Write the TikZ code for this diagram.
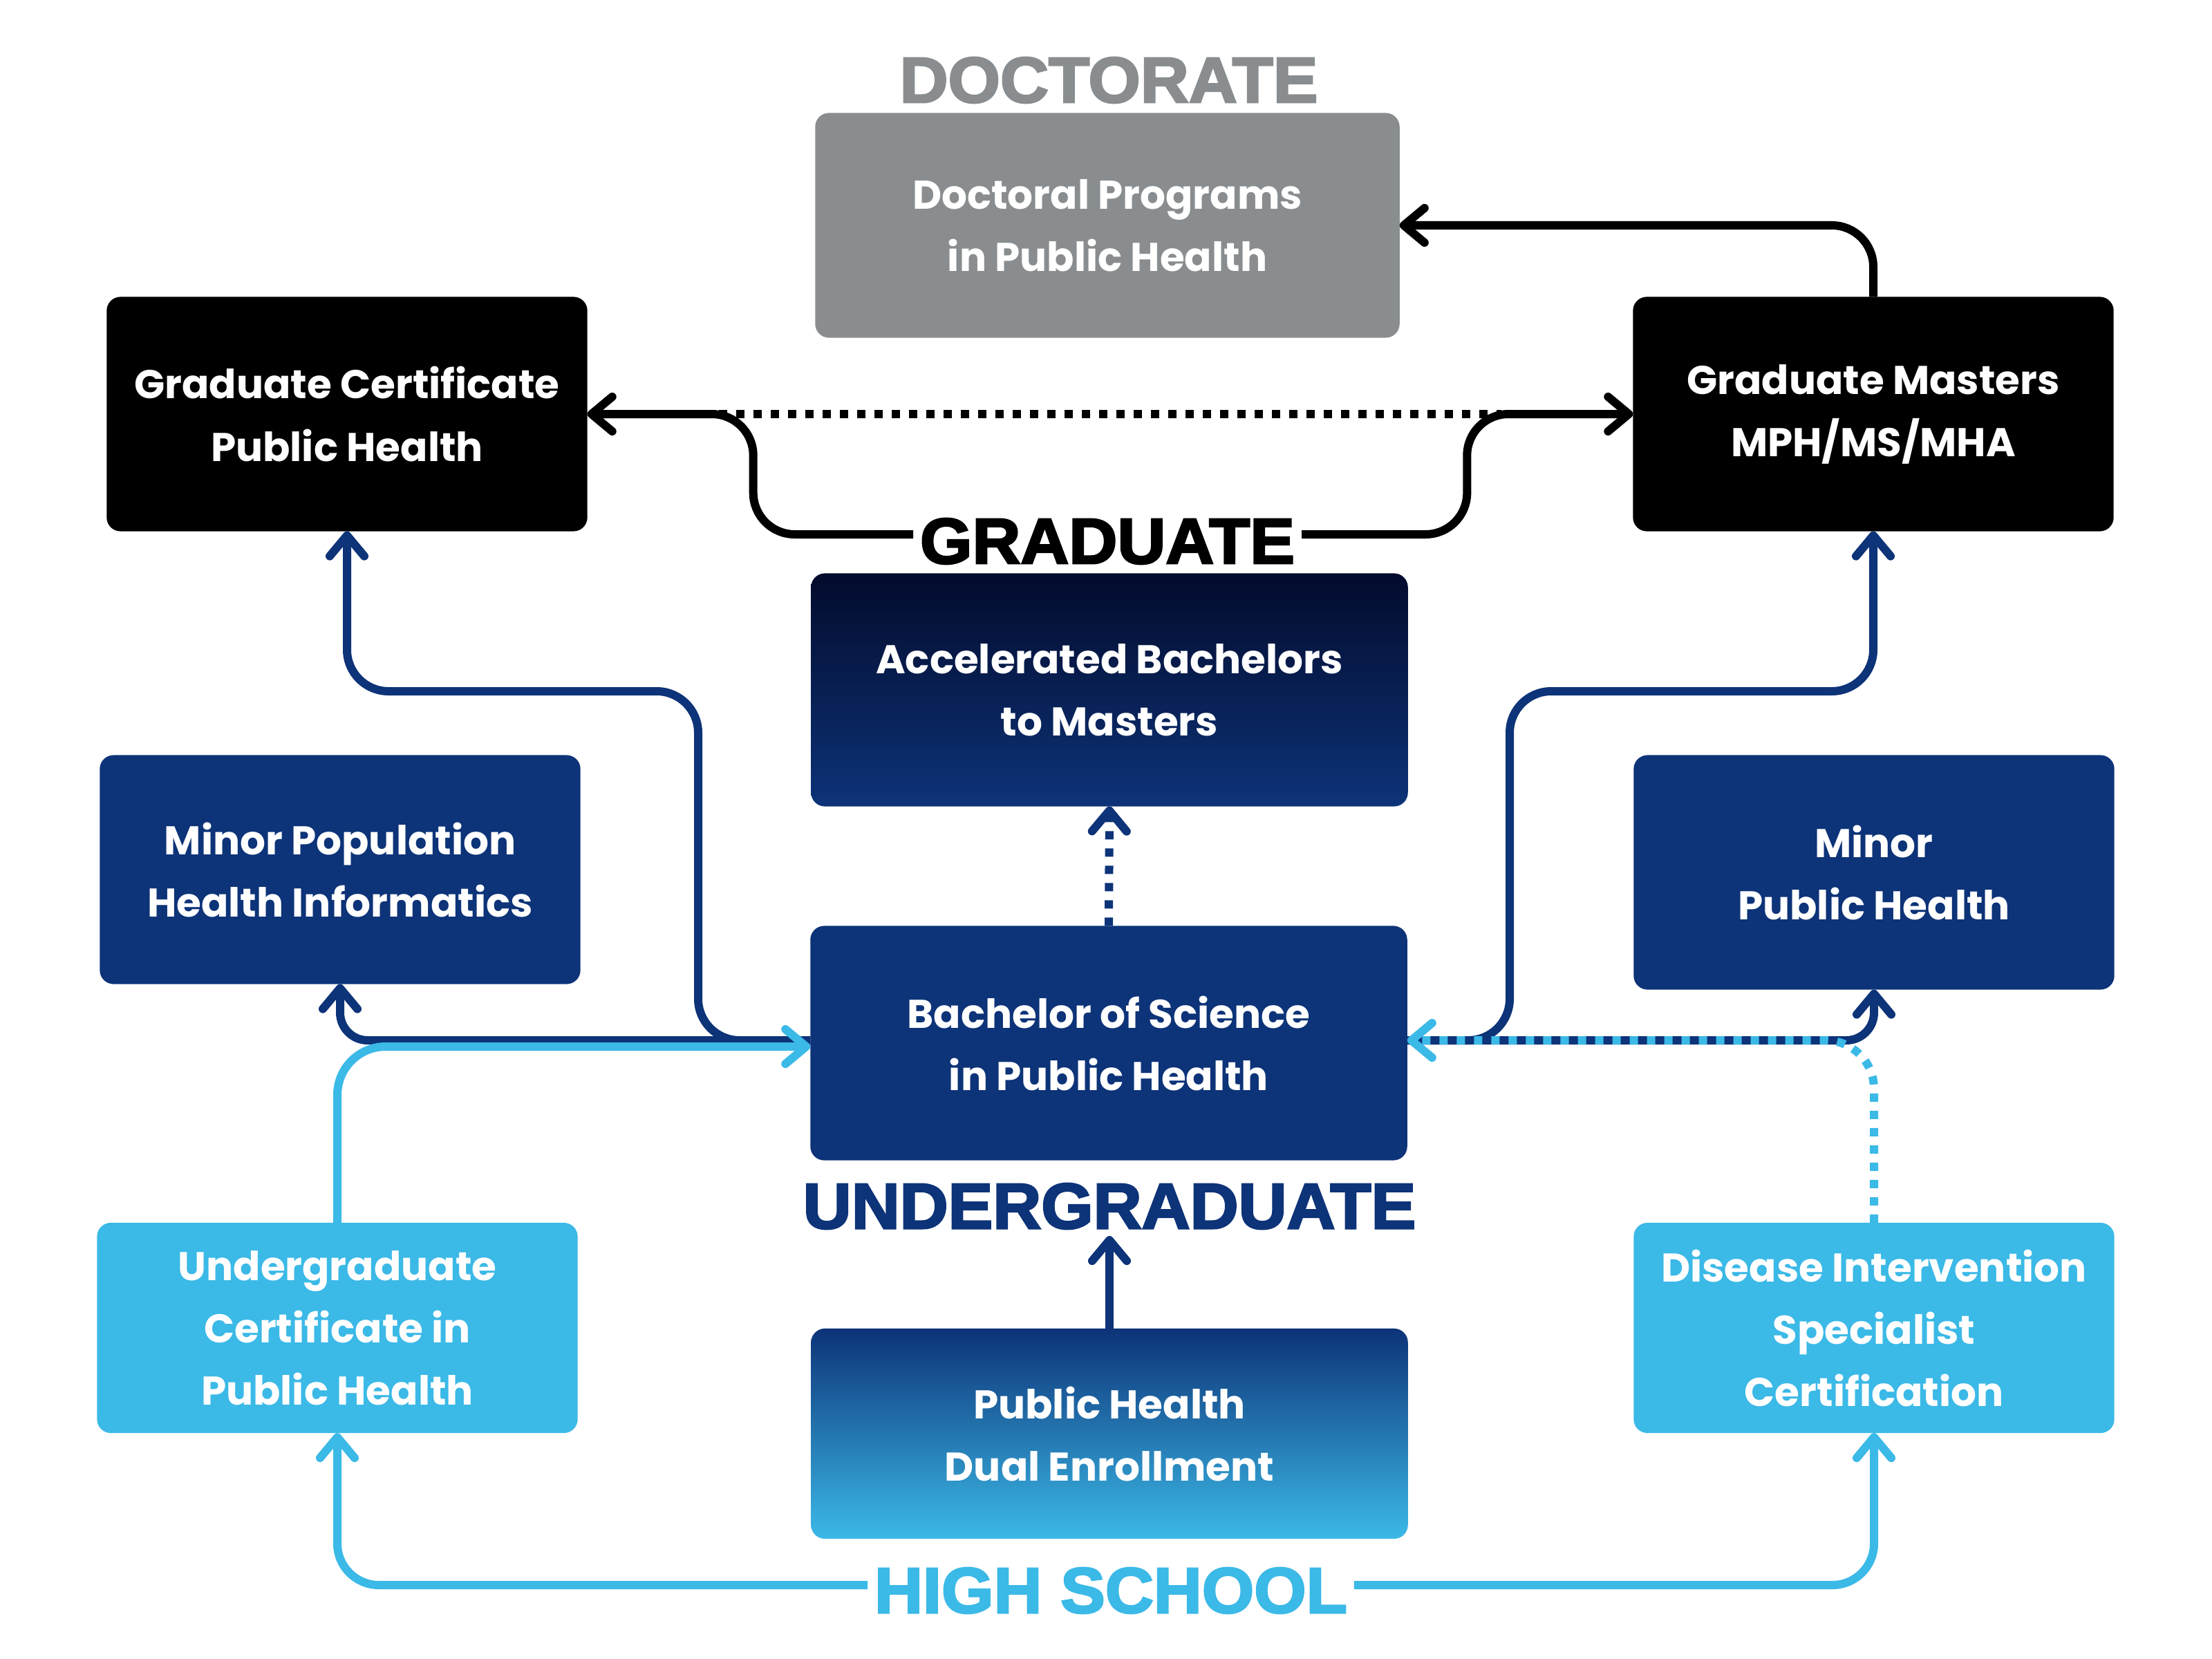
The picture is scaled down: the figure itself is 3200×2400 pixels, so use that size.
\documentclass[tikz,border=0pt]{standalone}
\usepackage{fontspec}
\setmainfont{Poppins}
\newfontfamily\headfont[FakeBold=3,FakeStretch=1.04]{Liberation Sans}
\usetikzlibrary{positioning,calc,arrows.meta}

\definecolor{docgray}{HTML}{898D8F}
\definecolor{navy}{HTML}{0D3378}
\definecolor{skyblue}{HTML}{3BB9E7}
\definecolor{nightblue}{HTML}{030B2C}
\definecolor{midblue}{HTML}{1A6FB5}

\begin{document}
\begin{tikzpicture}[
    x=0.01cm, y=-0.01cm,
    chev/.tip={Straight Barb[length=0.3cm, width=0.5cm, round]},
    box/.style={rectangle, rounded corners=0.2cm, text=white, align=center,
                font=\fontsize{16.5}{25.6}\selectfont\bfseries, inner sep=0pt, outer sep=0pt},
    side/.style={box, minimum width=6.95cm},
    mid/.style={box, minimum width=8.63cm},
    level/.style={font=\headfont\bfseries\fontsize{26.5}{30}\selectfont, inner sep=0.1cm, outer sep=0pt},
    link/.style={line width=0.12cm, rounded corners=0.6cm, -chev},
    dots/.style={dash pattern=on 0.12cm off 0.13cm}
]
\useasboundingbox (0,0) rectangle (3200,2400);

% Level labels
\node[level, text=docgray] (doct) at (1604,116) {DOCTORATE};
\node[level, text=black, fill=white] (grad) at (1602,783) {GRADUATE};
\node[level, text=navy] (ugrad) at (1605,1745) {UNDERGRADUATE};
\node[level, text=skyblue] (hs) at (1607,2301) {HIGH SCHOOL};

% Programs
\node[box, fill=docgray, minimum width=8.45cm, minimum height=3.25cm] (doc) at (1602,326) {Doctoral Programs\\in Public Health};
\node[side, fill=black, minimum height=3.39cm] (gc) at (502,599) {Graduate Certificate\\Public Health};
\node[side, fill=black, minimum height=3.39cm] (gm) at (2710,599) {Graduate Masters\\MPH/MS/MHA};
\node[mid, top color=nightblue, bottom color=navy, minimum height=3.37cm] (acc) at (1605,998) {Accelerated Bachelors\\to Masters};
\node[side, fill=navy, minimum height=3.31cm] (mphi) at (492,1258) {Minor Population\\Health Informatics};
\node[mid, fill=navy, minimum height=3.39cm] (bs) at (1604,1509) {Bachelor of Science\\in Public Health};
\node[side, fill=navy, minimum height=3.39cm] (mph) at (2711,1262) {Minor\\Public Health};
\node[side, fill=skyblue, minimum height=3.04cm] (uc) at (488,1921) {Undergraduate\\Certificate in\\Public Health};
\node[mid, top color=navy, middle color=midblue, bottom color=skyblue, minimum height=3.04cm] (dual) at (1605,2074) {Public Health\\Dual Enrollment};
\node[side, fill=skyblue, minimum height=3.04cm] (dis) at (2711,1921) {Disease Intervention\\Specialist\\Certification};

% Graduate level
\draw[link, black] (gm.north) |- (doc.east);
\draw[link, black] ($(grad.west)+(0,-10)$) -| ($(gc.east)+(240,0)$) -- (gc.east);
\draw[link, black] ($(grad.east)+(0,-10)$) -| ($(gm.west)+(-240,0)$) -- (gm.west);
\draw[line width=0.12cm, black, dots] ($(gc.east)+(190,0)$) -- ($(gm.west)+(-190,0)$);

% Bachelor outgoing
\draw[link, navy, dots] (bs.north) -- (acc.south);
\draw[link, navy] ($(bs.west)+(0,-4)$) -| (1010,1000) -| (gc.south);
\draw[link, navy] ($(bs.east)+(0,-4)$) -| (2184,1000) -| (gm.south);
\draw[link, navy, rounded corners=0.4cm] ($(bs.west)+(0,-4)$) -| (mphi.south);
\draw[link, navy, rounded corners=0.4cm] ($(bs.east)+(0,-4)$) -| (mph.south);

% Into bachelor
\draw[link, navy] (dual.north) -- (ugrad.south);
\draw[link, skyblue, rounded corners=0.7cm] (uc.north) |- ($(bs.west)+(0,5)$);
\draw[link, skyblue, dots, rounded corners=0.7cm] (dis.north) |- ($(bs.east)+(0,-4)$);

% High school
\draw[link, skyblue] ($(hs.west)+(0,-8)$) -| (uc.south);
\draw[link, skyblue] ($(hs.east)+(0,-8)$) -| (dis.south);

\end{tikzpicture}
\end{document}
